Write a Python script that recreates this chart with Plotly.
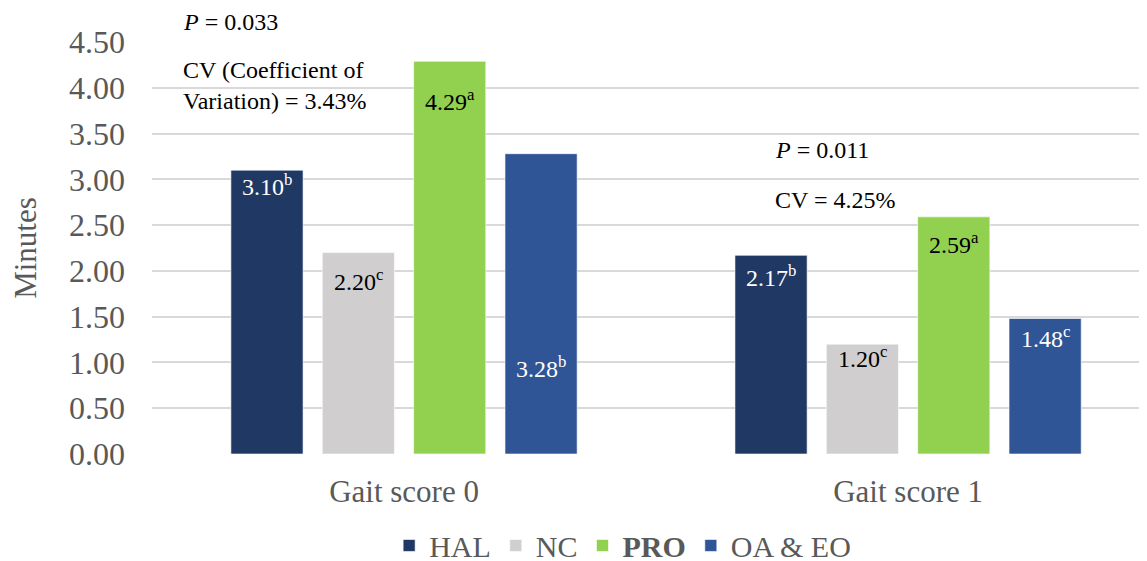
import plotly.graph_objects as go

# data
categories = ["Gait score 0", "Gait score 1"]
series_names = ["HAL", "NC", "<b>PRO</b>", "OA & EO"]
hal = [3.10, 2.17]
nc = [2.20, 1.20]
pro = [4.29, 2.59]
oa_eo = [3.28, 1.48]
hal_letters = ["b", "b"]
nc_letters = ["c", "c"]
pro_letters = ["a", "a"]
oa_eo_letters = ["b", "c"]
tick_vals = [0, 0.5, 1, 1.5, 2, 2.5, 3, 3.5, 4, 4.5]

colors = ["#1F3864", "#D0CECE", "#92D050", "#2F5597"]
label_colors = ["white", "black", "black", "white"]
# how far below the bar top each value label sits (data units), as in the original
label_drop = [[0.16, 0.23], [0.30, 0.14], [0.42, 0.29], [2.33, 0.20]]

FONT = "Liberation Serif"
GREY = "#595959"

values = [hal, nc, pro, oa_eo]
letters = [hal_letters, nc_letters, pro_letters, oa_eo_letters]

fig = go.Figure()
for name, vals, col in zip(series_names, values, colors):
    fig.add_trace(go.Bar(
        x=categories, y=vals, name=name,
        marker=dict(color=col, line=dict(color="rgba(255,255,255,0.6)", width=1)),
        hoverinfo="y",
    ))

bargap = 0.275
cat_px = 504
slot_px = (1 - bargap) * cat_px / 4

annotations = []
for i, (vals, lets) in enumerate(zip(values, letters)):
    shift = (i - 1.5) * slot_px
    for j, cat in enumerate(categories):
        annotations.append(dict(
            x=cat, y=vals[j] - label_drop[i][j], xref="x", yref="y",
            text=f"{vals[j]:.2f}<sup>{lets[j]}</sup>",
            showarrow=False, xshift=shift, yanchor="middle",
            font=dict(family=FONT, size=24, color=label_colors[i]),
        ))

note_font = dict(family=FONT, size=24, color="black")
annotations += [
    dict(x=-0.442, y=1.049, yref="paper", yanchor="middle", text="<i>P</i> = 0.033",
         xanchor="left", showarrow=False, font=note_font),
    dict(x=-0.442, y=4.03, text="CV (Coefficient of<br>Variation) = 3.43%",
         xanchor="left", align="left", showarrow=False, font=note_font),
    dict(x=0.732, y=3.32, text="<i>P</i> = 0.011", xanchor="left",
         showarrow=False, font=note_font),
    dict(x=0.732, y=2.77, text="CV = 4.25%", xanchor="left",
         showarrow=False, font=note_font),
]
for a in annotations:
    a.setdefault("xref", "x")
    a.setdefault("yref", "y")

# the page puts the figure 8px in from the window corner, so size it to fit
fig.update_layout(
    width=1139, height=553,
    margin=dict(l=144, r=0, t=34, b=107, autoexpand=False),
    paper_bgcolor="white", plot_bgcolor="white",
    barmode="group", bargap=bargap, bargroupgap=0.21,
    font=dict(family=FONT, size=31, color=GREY),
    annotations=annotations,
    legend=dict(orientation="h", x=0.473, xanchor="center", y=-0.222, yanchor="middle",
                font=dict(family=FONT, size=30, color=GREY),
                itemwidth=30, traceorder="normal"),
    xaxis=dict(range=[-0.5, 1.474], showgrid=False, ticks="", ticklabelstandoff=16,
               showline=False, zeroline=False),
    yaxis=dict(range=[0, 4.5], tickvals=tick_vals, tickformat=".2f",
               gridcolor="#D9D9D9", gridwidth=1.5, zeroline=False,
               ticklabelstandoff=26, tickfont=dict(size=32),
               title=dict(text="Minutes", standoff=25, font=dict(size=31, color=GREY))),
)

fig.write_html("out.html")
